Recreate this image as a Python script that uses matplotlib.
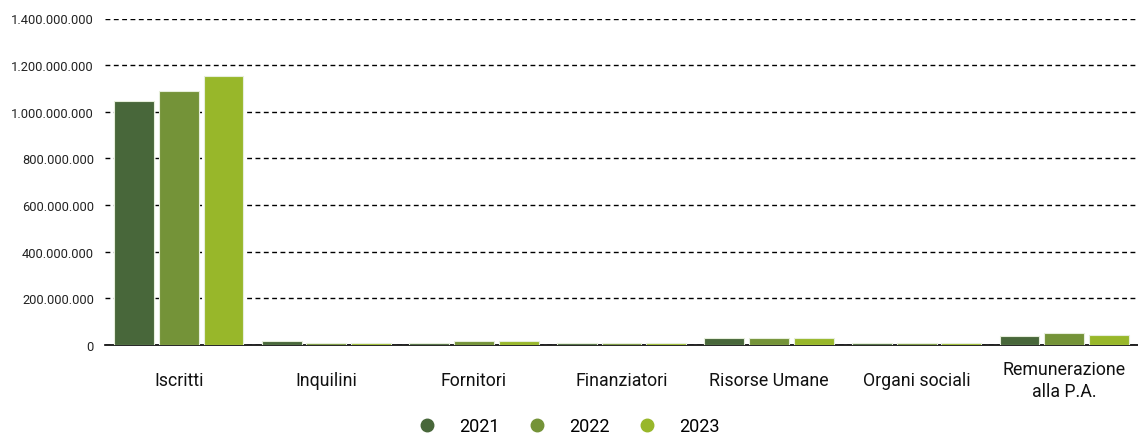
import matplotlib.pyplot as plt
import numpy as np
from matplotlib.ticker import FuncFormatter
from matplotlib.lines import Line2D

plt.rcParams['font.family'] = ['Roboto', 'DejaVu Sans']

# ------------------------------------------------------------
# Dati
# ------------------------------------------------------------
categorie = ["Iscritti", "Inquilini", "Fornitori", "Finanziatori",
             "Risorse Umane", "Organi sociali", "Remunerazione\nalla P.A."]
anni = ["2021", "2022", "2023"]
valori_2021 = [1046e6, 16e6, 8e6, 8e6, 29e6, 7e6, 37e6]
valori_2022 = [1089e6, 9e6, 16e6, 8e6, 29e6, 7e6, 50e6]
valori_2023 = [1152e6, 9e6, 16e6, 8e6, 29e6, 7e6, 43e6]
colori = ["#48673a", "#749338", "#98b72a"]

serie = [valori_2021, valori_2022, valori_2023]

fig = plt.figure(figsize=(11.38, 4.35), dpi=100)
ax = fig.add_axes([105 / 1138, 89 / 435, 1 - 105 / 1138, (346 - 19.5) / 435])

x = np.arange(len(categorie))
w = 0.27
step = 0.303
for i, (vals, col) in enumerate(zip(serie, colori)):
    ax.bar(x + (i - 1) * step, vals, width=w, color=col,
           edgecolor="#e6eedb", linewidth=0.8, zorder=3)

ax.set_xlim(-0.5, len(categorie) - 0.5)
ax.set_ylim(0, 1.4e9)
ax.set_yticks(np.arange(0, 1.4e9 + 1, 2e8))
ax.yaxis.set_major_formatter(FuncFormatter(lambda v, p: f"{int(v):,}".replace(",", ".")))
ax.grid(axis="y", linestyle=(0, (3.5, 2.5)), color="black", linewidth=1, zorder=1)

for s in ["top", "right", "left"]:
    ax.spines[s].set_visible(False)
ax.spines["bottom"].set_linewidth(1.2)
ax.tick_params(axis="y", length=0, pad=8, labelsize=9.3, labelcolor="#222222")
ax.tick_params(axis="x", length=0, pad=25, labelsize=12.8, labelcolor="#111111")

ax.set_xticks(x)
ax.set_xticklabels(categorie, linespacing=1.3)
for lab in ax.get_xticklabels():
    lab.set_va("center")

handles = [Line2D([0], [0], marker="o", linestyle="", markersize=9,
                  markerfacecolor=c, markeredgecolor=c) for c in colori]
fig.legend(handles, anni, loc="lower center", ncol=3, frameon=False,
           fontsize=13, bbox_to_anchor=(0.5, -0.04), handlelength=1.0,
           handletextpad=1.3, columnspacing=1.55)

fig.savefig("out.png", dpi=100)
